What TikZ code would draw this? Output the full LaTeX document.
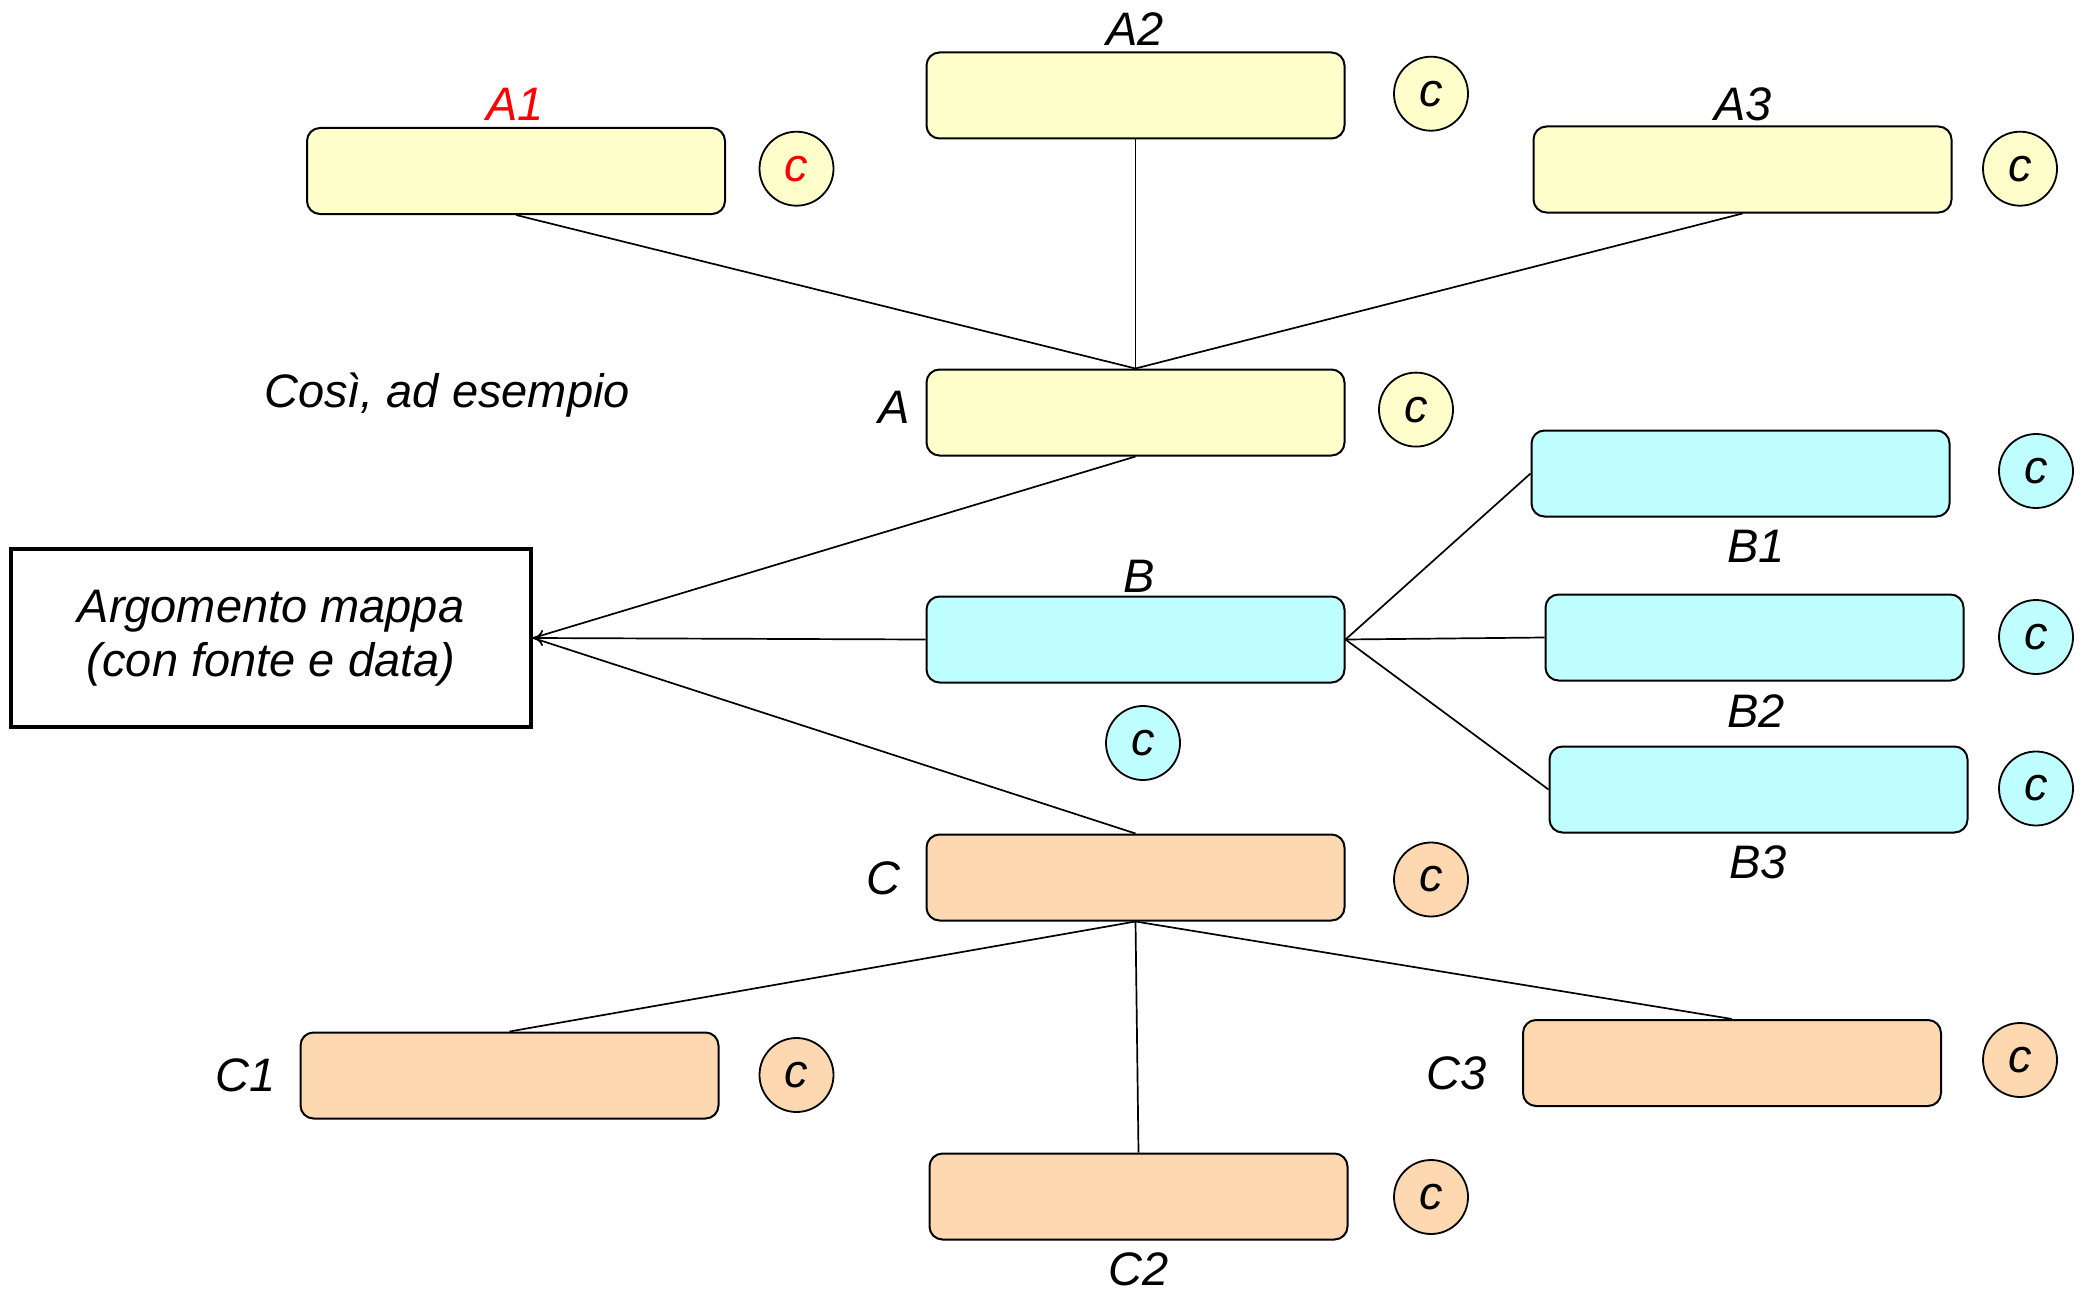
\documentclass[tikz,border=0pt]{standalone}
\usepackage{fontspec}
\setmainfont{Liberation Sans}
\usetikzlibrary{arrows.meta}
\definecolor{ylw}{HTML}{FFFFCC}
\definecolor{cyn}{HTML}{C0FFFF}
\definecolor{orn}{HTML}{FDD8B0}
\begin{document}
\begin{tikzpicture}[x=0.5pt,y=-0.5pt,
  font=\fontsize{23.5}{28}\selectfont\itshape,
  box/.style={draw=black,line width=1pt,rounded corners=6.5pt,minimum width=209pt,minimum height=43pt,inner sep=0pt},
  yb/.style={box,fill=ylw},
  cb/.style={box,fill=cyn},
  ob/.style={box,fill=orn},
  cc/.style={draw=black,line width=0.9pt,circle,minimum size=37pt,inner sep=0pt},
  lbl/.style={inner sep=0pt},
  link/.style={line width=0.85pt}]
\useasboundingbox (0,0) rectangle (2099,1295);
% main box
\node[draw=black,line width=2pt,minimum width=260pt,minimum height=89pt,inner sep=0pt,align=center] (M) at (271,638) {Argomento mappa\\[-1pt](con fonte e data)};
% boxes
\node[yb] (A1) at (516,171) {};
\node[yb] (A2) at (1135.5,95.5) {};
\node[yb] (A3) at (1742.5,169.5) {};
\node[yb] (A) at (1135.5,412.5) {};
\node[cb] (B1) at (1740.5,473.5) {};
\node[cb] (B) at (1135.5,639.5) {};
\node[cb] (B2) at (1754.5,637.5) {};
\node[cb] (B3) at (1758.5,789.5) {};
\node[ob] (C) at (1135.5,877.5) {};
\node[ob] (C1) at (509.5,1075.5) {};
\node[ob] (C2) at (1138.5,1196.5) {};
\node[ob] (C3) at (1732,1063) {};
% circles
\node[cc,fill=ylw,text=red] (cA1) at (796.5,168.7) {c};
\node[cc,fill=ylw] (cA2) at (1431,93.7) {c};
\node[cc,fill=ylw] (cA3) at (2020,168.7) {c};
\node[cc,fill=ylw] (cA) at (1416,409.6) {c};
\node[cc,fill=cyn] (cB1) at (2036,471) {c};
\node[cc,fill=cyn] (cB) at (1143,743) {c};
\node[cc,fill=cyn] (cB2) at (2036,637) {c};
\node[cc,fill=cyn] (cB3) at (2036,788.5) {c};
\node[cc,fill=orn] (cC) at (1431,879.5) {c};
\node[cc,fill=orn] (cC1) at (796.5,1075) {c};
\node[cc,fill=orn] (cC2) at (1431,1197) {c};
\node[cc,fill=orn] (cC3) at (2020,1060) {c};
% labels
\node[lbl,text=red] (lA1) at (515,104) {A1};
\node[lbl] (lA2) at (1135,29.5) {A2};
\node[lbl] (lA3) at (1743,104) {A3};
\node[lbl] (lA) at (894,407) {A};
\node[lbl] (lB) at (1139,576) {B};
\node[lbl] (lB1) at (1756,546) {B1};
\node[lbl] (lB2) at (1756,711) {B2};
\node[lbl] (lB3) at (1758,862) {B3};
\node[lbl] (lC) at (883.5,878) {C};
\node[lbl] (lC1) at (246,1075) {C1};
\node[lbl] (lC2) at (1139,1269) {C2};
\node[lbl] (lC3) at (1456.5,1073.6) {C3};
\node[lbl] (cosi) at (447,395) {Così, ad esempio};
% connectors
\draw[link] (A1.south) -- (A.north);
\draw[link] (A2.south) -- (A.north);
\draw[link] (A3.south) -- (A.north);
\draw[link] (A.south) -- (M.east);
\draw[link,-{To[length=5pt,width=8pt]}] (B.west) -- (M.east);
\draw[link] (C.north) -- (M.east);
\draw[link] (B.east) -- (B1.west);
\draw[link] (B.east) -- (B2.west);
\draw[link] (B.east) -- (B3.west);
\draw[link] (C.south) -- (C1.north);
\draw[link] (C.south) -- (C2.north);
\draw[link] (C.south) -- (C3.north);
\end{tikzpicture}
\end{document}
